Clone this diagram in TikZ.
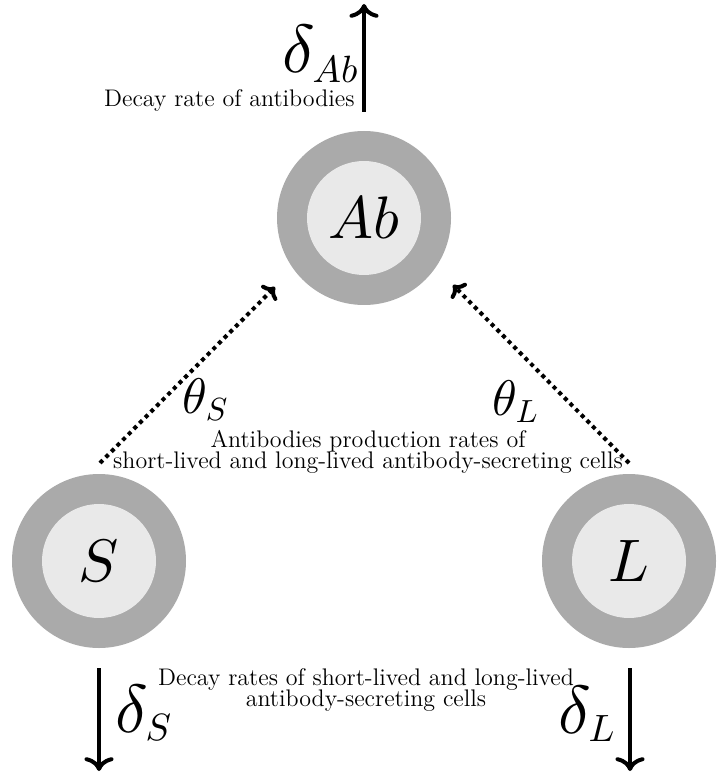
\documentclass[tikz,border=0pt]{standalone}
\usetikzlibrary{arrows.meta}
\DeclareFontFamily{OML}{cmm}{\skewchar\font127 }
\DeclareFontShape{OML}{cmm}{m}{it}{<->cmmi10}{}
\DeclareMathSizes{34}{34}{19}{14}
\DeclareMathSizes{25}{25}{16}{12}
\DeclareMathSizes{30}{30}{21}{15}
\definecolor{ringgray}{HTML}{AAAAAA}
\definecolor{coregray}{HTML}{E9E9E9}
\newcommand\descfont{\fontsize{12}{10.5}\selectfont\lineskiplimit=-20pt\relax}
\begin{document}
\begin{tikzpicture}[x=0.5pt,y=-0.5pt,
  ring/.style={circle, fill=ringgray, minimum size=87pt, inner sep=0pt},
  core/.style={circle, fill=coregray, minimum size=57pt, inner sep=0pt, font=\fontsize{30}{36}\selectfont},
  flow/.style={line width=2pt, -{To[scale=1.15]}},
  prod/.style={line width=2pt, dotted, -{To[scale=0.85]}},
  desc/.style={font=\descfont, align=center, inner sep=0pt},
  dlab/.style={font=\fontsize{34}{40}\selectfont, inner sep=0pt},
  tlab/.style={font=\fontsize{25}{30}\selectfont, inner sep=0pt}]
\useasboundingbox (0,0) rectangle (718,774);
% compartments
\node[ring] (AbR) at (364,218) {};
\node[core] (Ab) at (364,218) {$Ab$};
\node[ring] (SR) at (99,561) {};
\node[core] (S) at (99,561) {$S$};
\node[ring] (LR) at (629,561) {};
\node[core] (L) at (629,561) {$L$};
% arrow end points
\coordinate (abOut0) at (364,112);
\coordinate (abOut1) at (364,4);
\coordinate (sOut0) at (99,668);
\coordinate (sOut1) at (99,771);
\coordinate (lOut0) at (630,668);
\coordinate (lOut1) at (630,771);
\coordinate (sProd0) at (100,463);
\coordinate (sProd1) at (275,287);
\coordinate (lProd0) at (629,463);
\coordinate (lProd1) at (453,285);
% connectors
\draw[flow] (abOut0) -- (abOut1);
\draw[flow] (sOut0) -- (sOut1);
\draw[flow] (lOut0) -- (lOut1);
\draw[prod] (sProd0) -- (sProd1);
\draw[prod] (lProd0) -- (lProd1);
% labels
\node[dlab, anchor=base west] (dAb) at (282,73) {$\delta_{Ab}$};
\node[desc, anchor=base east] (dAbT) at (355,107) {Decay rate of antibodies};
\node[tlab, anchor=base west] (tS) at (182,413) {$\theta_S$};
\node[tlab, anchor=base west] (tL) at (492,415) {$\theta_L$};
\node[desc] (prodT) at (368,452) {Antibodies production rates of\\short-lived and long-lived antibody-secreting cells};
\node[dlab, anchor=base west] (dS) at (115,732) {$\delta_S$};
\node[dlab, anchor=base west] (dL) at (558,733) {$\delta_L$};
\node[desc] (decT) at (366,690) {Decay rates of short-lived and long-lived\\antibody-secreting cells};
\end{tikzpicture}
\end{document}
